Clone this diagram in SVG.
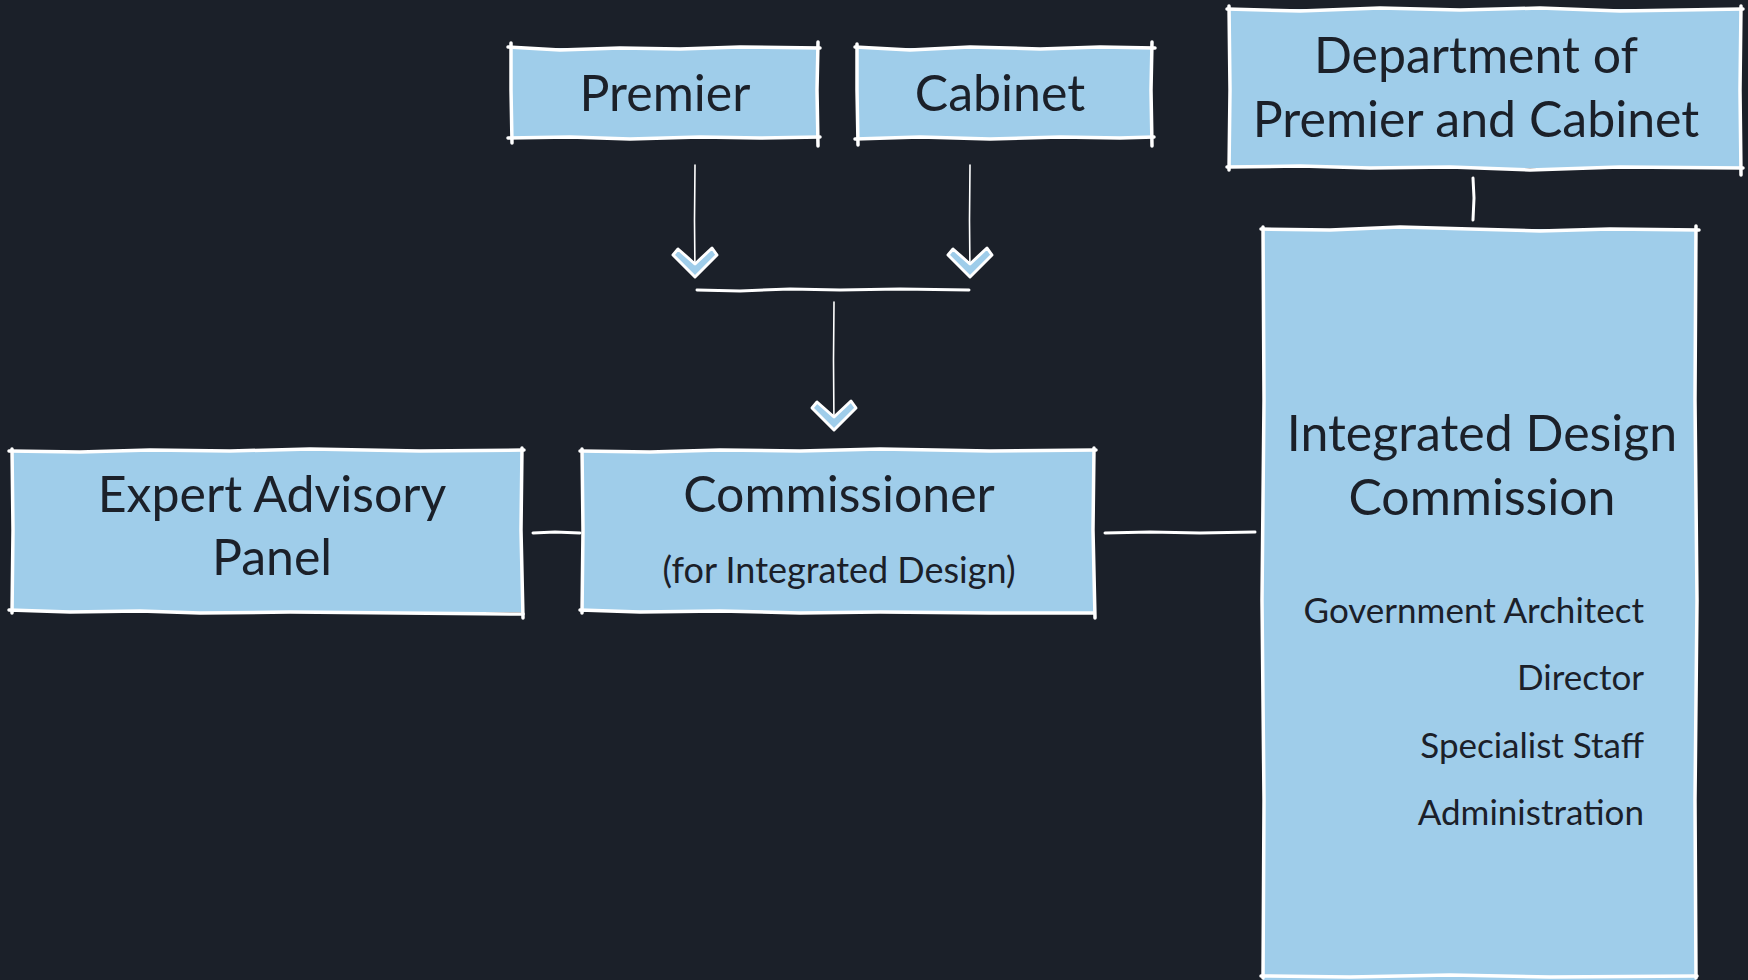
<svg xmlns="http://www.w3.org/2000/svg" width="1748" height="980" viewBox="0 0 1748 980">
<defs>
<style>
.bg{fill:#1b2029}
.box{fill:#9fcdea}
.edge{fill:none;stroke:#ffffff;stroke-width:3.5;stroke-linecap:round;stroke-linejoin:round}
.t{font-family:"Lato","Open Sans","Liberation Sans",sans-serif;fill:#1b2029;text-anchor:middle}
.big{font-size:50px}
.mid{font-size:36px}
.item{font-size:35px;text-anchor:end}
.thin{fill:none;stroke:#ffffff;stroke-width:1.6;stroke-linecap:round}
.conn{fill:none;stroke:#ffffff;stroke-width:3;stroke-linecap:round}
.head{fill:#9fcdea;stroke:#ffffff;stroke-width:3;stroke-linejoin:round}
</style>
<path id="chev" d="M0,0 L-22,-22 L-17,-28 L0,-13 L17,-29 L22,-22 Z"/>
</defs>
<rect class="bg" x="0" y="0" width="1748" height="980"/>

<g id="connectors">
<path class="thin" d="M695,165 L694.5,220 L695,275"/>
<path class="thin" d="M970,165 L969.5,220 L970,275"/>
<path class="conn" d="M697,290 L740,291 L790,289 L840,290 L900,289 L969,290"/>
<path class="thin" d="M834,302 L833.5,360 L834,428"/>
<path class="conn" d="M1473,178 L1474,198 L1473,220"/>
<path class="conn" d="M533,533 L555,532 L580,533"/>
<path class="conn" d="M1105,533 L1150,532 L1200,533 L1255,532"/>
<use href="#chev" class="head" x="695" y="277"/>
<use href="#chev" class="head" x="970" y="277"/>
<use href="#chev" class="head" x="834" y="430"/>
</g>

<g id="premier">
<rect class="box" x="511" y="48" width="307" height="90"/>
<path class="edge" d="M508,47 L560,50 L620,48 L680,49 L740,47 L820,48"/>
<path class="edge" d="M508,138 L570,137 L630,139 L700,137 L760,138 L820,137"/>
<path class="edge" d="M511,43 L511,90 L512,143"/>
<path class="edge" d="M818,42 L817,90 L818,146"/>
<text class="t big" x="665" y="111">Premier</text>
</g>

<g id="cabinet">
<rect class="box" x="857" y="48" width="295" height="90"/>
<path class="edge" d="M855,47 L910,50 L970,47 L1040,49 L1100,47 L1155,48"/>
<path class="edge" d="M855,139 L920,137 L990,139 L1060,137 L1120,138 L1154,137"/>
<path class="edge" d="M857,44 L857,90 L858,145"/>
<path class="edge" d="M1152,42 L1151,90 L1152,146"/>
<text class="t big" x="1000" y="111">Cabinet</text>
</g>

<g id="dept">
<rect class="box" x="1229" y="9" width="512" height="159"/>
<path class="edge" d="M1227,9 L1300,11 L1380,8 L1460,10 L1540,8 L1620,11 L1743,9"/>
<path class="edge" d="M1227,167 L1300,166 L1370,168 L1450,167 L1530,170 L1620,167 L1743,168"/>
<path class="edge" d="M1229,6 L1230,90 L1229,170"/>
<path class="edge" d="M1741,6 L1740,90 L1741,175"/>
<text class="t big" x="1476" y="73">Department of</text>
<text class="t big" x="1476" y="137">Premier and Cabinet</text>
</g>

<g id="idc">
<rect class="box" x="1263" y="229" width="433" height="751"/>
<path class="edge" d="M1261,229 L1330,230 L1400,227 L1470,229 L1540,231 L1610,229 L1699,230"/>
<path class="edge" d="M1261,976 L1350,977 L1450,975 L1550,977 L1697,976"/>
<path class="edge" d="M1263,227 L1264,400 L1262,600 L1264,800 L1263,978"/>
<path class="edge" d="M1696,226 L1695,400 L1697,600 L1695,800 L1696,978"/>
<text class="t big" x="1482" y="451">Integrated Design</text>
<text class="t big" x="1482" y="515">Commission</text>
<text class="t item" x="1644" y="623">Government Architect</text>
<text class="t item" x="1644" y="690">Director</text>
<text class="t item" x="1644" y="758">Specialist Staff</text>
<text class="t item" x="1644" y="825">Administration</text>
</g>

<g id="expert">
<rect class="box" x="12" y="451" width="510" height="161"/>
<path class="edge" d="M9,451 L80,452 L150,450 L230,451 L310,449 L420,451 L524,450"/>
<path class="edge" d="M9,610 L70,612 L140,611 L200,613 L290,612 L400,613 L523,614"/>
<path class="edge" d="M12,449 L13,530 L12,613"/>
<path class="edge" d="M522,448 L521,530 L523,618"/>
<text class="t big" x="272" y="512">Expert Advisory</text>
<text class="t big" x="272" y="575">Panel</text>
</g>

<g id="commissioner">
<rect class="box" x="582" y="451" width="512" height="161"/>
<path class="edge" d="M580,451 L650,452 L720,450 L800,451 L880,449 L990,451 L1096,450"/>
<path class="edge" d="M580,610 L640,612 L720,611 L800,613 L880,612 L990,613 L1094,613"/>
<path class="edge" d="M582,449 L583,530 L582,613"/>
<path class="edge" d="M1094,448 L1093,530 L1095,618"/>
<text class="t big" x="839" y="512">Commissioner</text>
<text class="t mid" x="839" y="583">(for Integrated Design)</text>
</g>
</svg>
